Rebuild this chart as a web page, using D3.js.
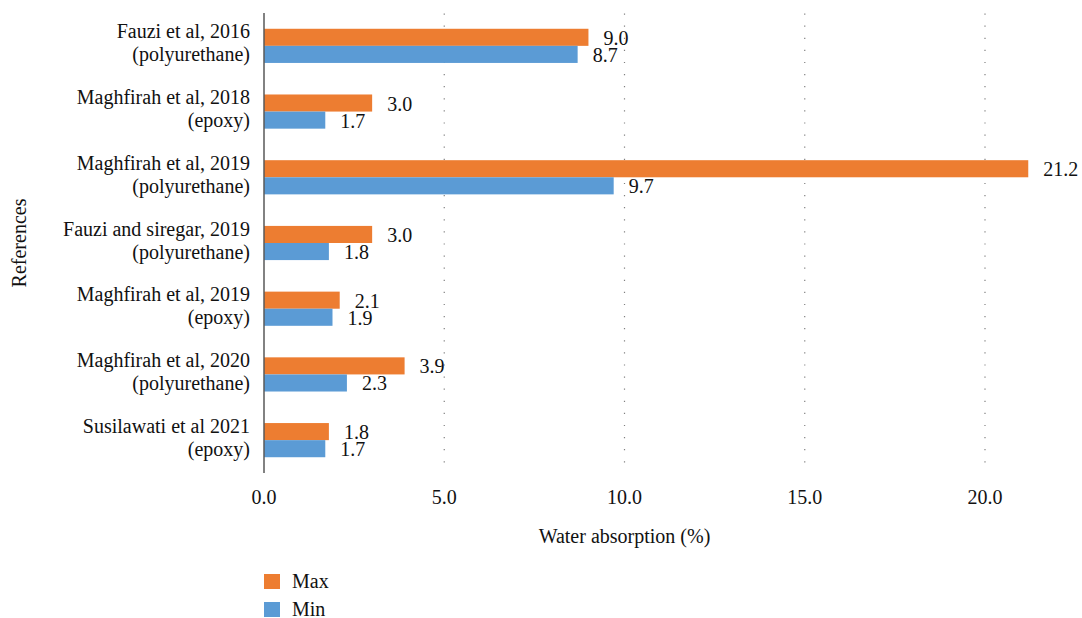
<!DOCTYPE html>
<html>
<head>
<meta charset="utf-8">
<script src="https://cdn.jsdelivr.net/npm/d3@7"></script>
<style>
  html, body { margin: 0; padding: 0; background: #fff; }
</style>
</head>
<body>
<svg id="chart" width="1082" height="618" font-family="'Liberation Serif', 'DejaVu Serif', serif" fill="#111"></svg>
<script>
// Studies (two-line labels: reference, matrix type)
const referenceNames = [
  "Fauzi et al, 2016",
  "Maghfirah et al, 2018",
  "Maghfirah et al, 2019",
  "Fauzi and siregar, 2019",
  "Maghfirah et al, 2019",
  "Maghfirah et al, 2020",
  "Susilawati et al 2021"
];
const matrixTypes = [
  "(polyurethane)",
  "(epoxy)",
  "(polyurethane)",
  "(polyurethane)",
  "(epoxy)",
  "(polyurethane)",
  "(epoxy)"
];
// Water absorption (%)
const maxValues = [9.0, 3.0, 21.2, 3.0, 2.1, 3.9, 1.8];
const minValues = [8.7, 1.7, 9.7, 1.8, 1.9, 2.3, 1.7];
const xTicks = [0, 5, 10, 15, 20];
const seriesNames = ["Max", "Min"];
const seriesColors = ["#ED7D31", "#5B9BD5"];

const svg = d3.select("#chart");
const fontSize = 20;

const x = d3.scaleLinear().domain([0, 20]).range([264, 985]);
const y = d3.scaleBand()
  .domain(d3.range(referenceNames.length))
  .range([13, 473])
  .paddingInner(0.48)
  .paddingOuter(0.24);
const sub = d3.scaleBand().domain([0, 1]).range([0, y.bandwidth()]);

// dotted vertical gridlines
svg.append("g")
  .selectAll("line")
  .data(xTicks.filter(d => d > 0))
  .join("line")
  .attr("x1", d => x(d)).attr("x2", d => x(d))
  .attr("y1", 13.5).attr("y2", 472)
  .attr("stroke", "#808080")
  .attr("stroke-width", 1.2)
  .attr("stroke-dasharray", "1.2 10.9");

// x tick labels
svg.append("g")
  .selectAll("text")
  .data(xTicks)
  .join("text")
  .attr("x", d => x(d))
  .attr("y", 504)
  .attr("text-anchor", "middle")
  .attr("font-size", fontSize)
  .text(d3.format(".1f"));

// bars
const groups = svg.append("g")
  .selectAll("g")
  .data(d3.range(referenceNames.length))
  .join("g")
  .attr("transform", i => `translate(0,${y(i)})`);

const pairs = i => [maxValues[i], minValues[i]].map((v, s) => ({ v, s }));

groups.selectAll("rect")
  .data(pairs)
  .join("rect")
  .attr("x", x(0))
  .attr("y", d => sub(d.s))
  .attr("width", d => x(d.v) - x(0))
  .attr("height", sub.bandwidth())
  .attr("fill", d => seriesColors[d.s]);

groups.selectAll("text.value")
  .data(pairs)
  .join("text")
  .attr("class", "value")
  .attr("x", d => x(d.v) + 15)
  .attr("y", d => sub(d.s) + sub.bandwidth() / 2 + 7.5)
  .attr("font-size", fontSize)
  .text(d => d3.format(".1f")(d.v));

// category labels
const labels = svg.append("g")
  .selectAll("text")
  .data(d3.range(referenceNames.length))
  .join("text")
  .attr("text-anchor", "end")
  .attr("font-size", fontSize);
labels.append("tspan")
  .attr("x", 250)
  .attr("y", i => y(i) + y.bandwidth() / 2 - 7.5)
  .text(i => referenceNames[i]);
labels.append("tspan")
  .attr("x", 250)
  .attr("y", i => y(i) + y.bandwidth() / 2 + 15.5)
  .text(i => matrixTypes[i]);

// vertical category axis line
svg.append("line")
  .attr("x1", x(0)).attr("x2", x(0))
  .attr("y1", 13).attr("y2", 473)
  .attr("stroke", "#595959")
  .attr("stroke-width", 1.5);

// axis titles
svg.append("text")
  .attr("x", (x.range()[0] + x.range()[1]) / 2)
  .attr("y", 543)
  .attr("text-anchor", "middle")
  .attr("font-size", fontSize)
  .text("Water absorption (%)");

svg.append("text")
  .attr("transform", `translate(26,${(y.range()[0] + y.range()[1]) / 2}) rotate(-90)`)
  .attr("text-anchor", "middle")
  .attr("font-size", fontSize)
  .text("References");

// legend
const legend = svg.append("g")
  .selectAll("g")
  .data(seriesNames)
  .join("g")
  .attr("transform", (d, i) => `translate(264,${574 + i * 28})`);
legend.append("rect")
  .attr("width", 16).attr("height", 15)
  .attr("fill", (d, i) => seriesColors[i]);
legend.append("text")
  .attr("x", 28)
  .attr("y", 13.5)
  .attr("font-size", fontSize)
  .text(d => d);
</script>
</body>
</html>
